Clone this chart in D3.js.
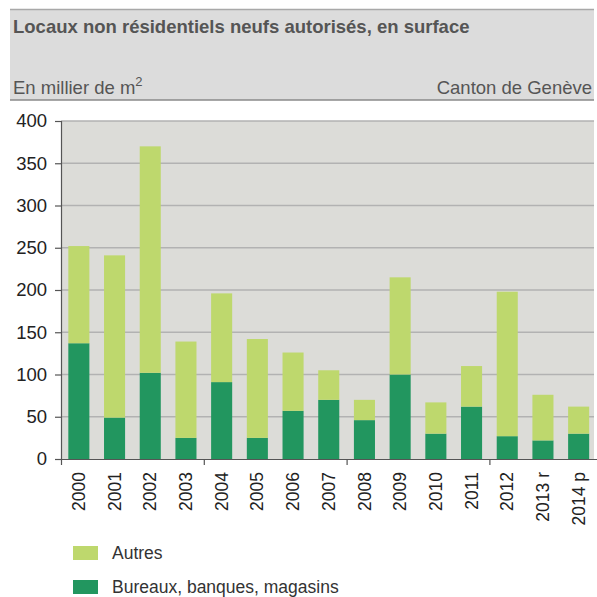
<!DOCTYPE html>
<html>
<head>
<meta charset="utf-8">
<script src="https://cdn.jsdelivr.net/npm/d3@7"></script>
<style>
  body { margin: 0; background: #fff; }
  svg { display: block; font-family: "Liberation Sans", Arial, sans-serif; }
</style>
</head>
<body>
<div id="chart"></div>
<script>
const years = ['2000', '2001', '2002', '2003', '2004', '2005', '2006', '2007',
  '2008', '2009', '2010', '2011', '2012', '2013 r', '2014 p'];
const bureaux = [137, 49, 102, 25, 91, 25, 57, 70, 46, 100, 30, 62, 27, 22, 30];
const autres = [115, 192, 268, 114, 105, 117, 69, 35, 24, 115, 37, 48, 171, 54, 32];
const yTicks = [0, 50, 100, 150, 200, 250, 300, 350, 400];
const seriesNames = ['Autres', 'Bureaux, banques, magasins'];
const colors = { autres: '#bed86d', bureaux: '#22965f' };

const width = 597;
const height = 597;
const margin = { top: 121, right: 0.5, bottom: 138, left: 61 };
const plotRight = 594;
const font = '"Liberation Sans", Arial, sans-serif';

const svg = d3.select('#chart')
  .append('svg')
  .attr('width', width)
  .attr('height', height);

// header band
svg.append('rect')
  .attr('x', 10).attr('y', 10)
  .attr('width', plotRight - 10).attr('height', 90)
  .attr('fill', '#dcdcdc');
svg.append('line')
  .attr('x1', 10).attr('x2', plotRight).attr('y1', 9.5).attr('y2', 9.5)
  .attr('stroke', '#a8a8a8').attr('stroke-width', 1.5);
svg.append('line')
  .attr('x1', 10).attr('x2', plotRight).attr('y1', 100).attr('y2', 100)
  .attr('stroke', '#8a8a8a').attr('stroke-width', 1.5);

svg.append('text')
  .attr('x', 13).attr('y', 33)
  .attr('font-size', 18.5).attr('font-weight', 'bold')
  .attr('fill', '#555')
  .text('Locaux non résidentiels neufs autorisés, en surface');

const sub = svg.append('text')
  .attr('x', 13).attr('y', 94)
  .attr('font-size', 18.5).attr('fill', '#555')
  .text('En millier de m');
sub.append('tspan')
  .attr('dy', -8).attr('font-size', 13)
  .text('2');

svg.append('text')
  .attr('x', 592).attr('y', 94)
  .attr('font-size', 18.5).attr('fill', '#555')
  .attr('text-anchor', 'end')
  .text('Canton de Genève');

// scales
const x = d3.scaleBand()
  .domain(years)
  .range([margin.left, width - margin.right])
  .paddingInner(0.41)
  .paddingOuter(0.205);

const xi = d3.scaleLinear()
  .domain([0, years.length])
  .range([margin.left, width - margin.right]);

const y = d3.scaleLinear()
  .domain([0, 400])
  .range([height - margin.bottom, margin.top]);

// plot background
svg.append('rect')
  .attr('x', margin.left).attr('y', y(400))
  .attr('width', plotRight - margin.left).attr('height', y(0) - y(400))
  .attr('fill', '#dcdcd8');

// gridlines
svg.selectAll('.grid')
  .data(yTicks.filter((d) => d > 0))
  .enter()
  .append('line')
  .attr('x1', margin.left).attr('x2', plotRight)
  .attr('y1', (d) => y(d)).attr('y2', (d) => y(d))
  .attr('stroke', '#b2b2b2')
  .attr('stroke-width', 1.5);

// stacked bars
const rows = years.map((yr, i) => ({ year: yr, bureaux: bureaux[i], autres: autres[i] }));
const stack = d3.stack().keys(['bureaux', 'autres'])(rows);

svg.selectAll('.layer')
  .data(stack)
  .enter()
  .append('g')
  .attr('fill', (d) => colors[d.key])
  .selectAll('rect')
  .data((d) => d)
  .enter()
  .append('rect')
  .attr('x', (d) => x(d.data.year))
  .attr('width', x.bandwidth())
  .attr('y', (d) => y(d[1]))
  .attr('height', (d) => y(d[0]) - y(d[1]));

// y axis
const yAxis = svg.append('g')
  .attr('transform', `translate(${margin.left},0)`)
  .call(d3.axisLeft(y).tickValues(yTicks).tickSize(6).tickPadding(8));
yAxis.selectAll('path, line').attr('stroke', '#555').attr('stroke-width', 1.2);
yAxis.selectAll('text').attr('font-size', 18.5).attr('fill', '#222')
  .attr('font-family', font);

// x axis: tick marks every 4 years
const xTickAxis = svg.append('g')
  .attr('transform', `translate(0,${y(0)})`)
  .call(d3.axisBottom(xi).tickValues([0, 4, 8, 12]).tickFormat('').tickSize(6).tickSizeOuter(0));
xTickAxis.selectAll('path, line').attr('stroke', '#555').attr('stroke-width', 1.2);

// x labels
const xAxis = svg.append('g')
  .attr('transform', `translate(0,${y(0)})`)
  .call(d3.axisBottom(x).tickSize(0));
xAxis.select('.domain').remove();
xAxis.selectAll('text')
  .attr('font-size', 17.5).attr('fill', '#222')
  .attr('font-family', font)
  .attr('transform', 'rotate(-90)')
  .attr('text-anchor', 'end')
  .attr('x', -13)
  .attr('y', 0)
  .attr('dy', '0.35em');

// legend
const legend = svg.selectAll('.legend')
  .data(seriesNames)
  .enter()
  .append('g')
  .attr('transform', (d, i) => `translate(73,${546 + i * 34})`);
legend.append('rect')
  .attr('width', 25).attr('height', 14)
  .attr('fill', (d, i) => (i === 0 ? colors.autres : colors.bureaux));
legend.append('text')
  .attr('x', 39).attr('y', 7).attr('dy', '0.35em')
  .attr('font-size', 17.5).attr('fill', '#333')
  .text((d) => d);
</script>
</body>
</html>
